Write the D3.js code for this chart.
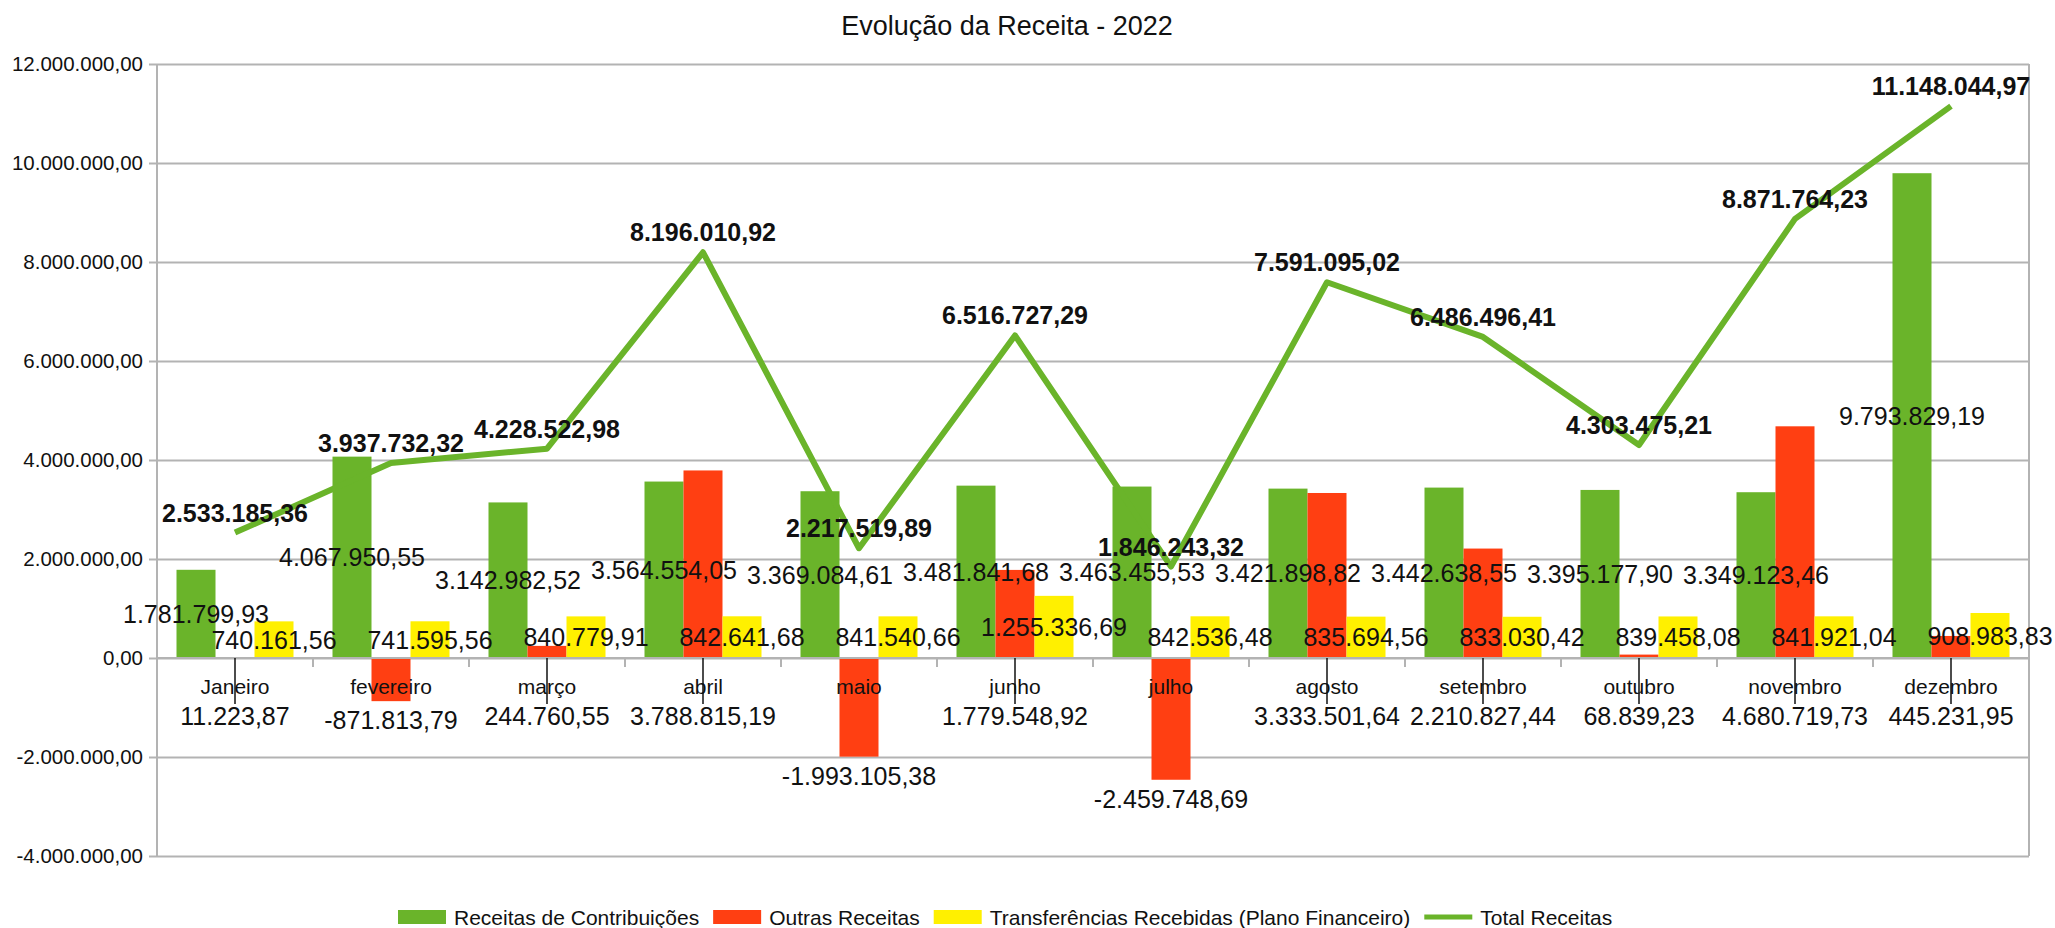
<!DOCTYPE html>
<html>
<head>
<meta charset="utf-8">
<script src="https://cdn.jsdelivr.net/npm/d3@7"></script>
<style>
  body { margin: 0; background: #fff; }
  text { font-family: "Liberation Sans", Arial, sans-serif; fill: #111; }
</style>
</head>
<body>
<svg id="chart"></svg>
<script>
// Months (category axis)
const months = ["Janeiro", "fevereiro", "março", "abril", "maio", "junho",
  "julho", "agosto", "setembro", "outubro", "novembro", "dezembro"];

// Series values
const contribuicoes = [1781799.93, 4067950.55, 3142982.52, 3564554.05, 3369084.61, 3481841.68,
  3463455.53, 3421898.82, 3442638.55, 3395177.90, 3349123.46, 9793829.19];
const outras = [11223.87, -871813.79, 244760.55, 3788815.19, -1993105.38, 1779548.92,
  -2459748.69, 3333501.64, 2210827.44, 68839.23, 4680719.73, 445231.95];
const transferencias = [740161.56, 741595.56, 840779.91, 842641.68, 841540.66, 1255336.69,
  842536.48, 835694.56, 833030.42, 839458.08, 841921.04, 908983.83];
const totais = [2533185.36, 3937732.32, 4228522.98, 8196010.92, 2217519.89, 6516727.29,
  1846243.32, 7591095.02, 6486496.41, 4303475.21, 8871764.23, 11148044.97];

const seriesNames = ["Receitas de Contribuições", "Outras Receitas",
  "Transferências Recebidas (Plano Financeiro)", "Total Receitas"];
const yTicks = [-4000000, -2000000, 0, 2000000, 4000000, 6000000, 8000000, 10000000, 12000000];

const colors = ["#6ab42a", "#ff3f12", "#fff000"];
const lineColor = "#6ab42a";

const width = 2055, height = 928;
const plotLeft = 157, plotRight = 2029, plotTop = 64, plotBottom = 856;

// Brazilian number format: 1.234.567,89 with a plain hyphen for negatives
const ptBR = d3.formatLocale({ decimal: ",", thousands: ".", grouping: [3], currency: ["R$", ""], minus: "-" });
const fmt = ptBR.format(",.2f");

const svg = d3.select("#chart")
  .attr("width", width)
  .attr("height", height);

const x = d3.scaleBand()
  .domain(months)
  .range([plotLeft, plotRight]);

// three bars per month, each a quarter of the band with half a bar gap either side
const xSub = d3.scaleBand()
  .domain([0, 1, 2])
  .range([0, x.bandwidth()])
  .paddingOuter(0.5);

const y = d3.scaleLinear()
  .domain([-4000000, 12000000])
  .range([plotBottom, plotTop]);

// Title
svg.append("text")
  .attr("x", 1007)
  .attr("y", 35)
  .attr("text-anchor", "middle")
  .style("font-size", "27px")
  .text("Evolução da Receita - 2022");

// Gridlines + y axis labels
const yAxis = svg.append("g")
  .attr("transform", `translate(${plotLeft},0)`)
  .call(d3.axisLeft(y)
    .tickValues(yTicks)
    .tickSize(-(plotRight - plotLeft))
    .tickSizeOuter(0)
    .tickPadding(14)
    .tickFormat(fmt));
yAxis.select(".domain").remove();
yAxis.selectAll(".tick line")
  .attr("x1", -8)
  .attr("stroke", "#b3b3b3")
  .attr("stroke-width", 2);
yAxis.selectAll(".tick text")
  .style("font-size", "20.5px")
  .attr("fill", "#111");

// Left and right frame lines
svg.append("line")
  .attr("x1", plotLeft).attr("x2", plotLeft)
  .attr("y1", plotTop).attr("y2", plotBottom)
  .attr("stroke", "#b3b3b3").attr("stroke-width", 2);
svg.append("line")
  .attr("x1", plotRight).attr("x2", plotRight)
  .attr("y1", plotTop).attr("y2", plotBottom)
  .attr("stroke", "#b3b3b3").attr("stroke-width", 2);

// Bars
const seriesData = [contribuicoes, outras, transferencias];
seriesData.forEach((values, s) => {
  svg.append("g")
    .selectAll("rect")
    .data(values)
    .join("rect")
    .attr("x", (d, i) => x(months[i]) + xSub(s))
    .attr("width", xSub.bandwidth())
    .attr("y", d => y(Math.max(0, d)))
    .attr("height", d => Math.abs(y(d) - y(0)))
    .attr("fill", colors[s]);
});

// Category axis on the zero line, ticks between months
const xAxis = svg.append("g")
  .attr("transform", `translate(0,${y(0)})`);
xAxis.append("line")
  .attr("x1", plotLeft).attr("x2", plotRight)
  .attr("stroke", "#b3b3b3").attr("stroke-width", 2);
xAxis.selectAll(".cat-tick")
  .data(months.slice(1))
  .join("line")
  .attr("class", "cat-tick")
  .attr("x1", d => x(d)).attr("x2", d => x(d))
  .attr("y1", 0).attr("y2", 9)
  .attr("stroke", "#b3b3b3").attr("stroke-width", 2);
xAxis.selectAll(".cat-label")
  .data(months)
  .join("text")
  .attr("class", "cat-label")
  .attr("x", d => x(d) + x.bandwidth() / 2)
  .attr("y", 36)
  .attr("text-anchor", "middle")
  .style("font-size", "21px")
  .text(d => d);

// Total line
const line = d3.line()
  .x((d, i) => x(months[i]) + x.bandwidth() / 2)
  .y(d => y(d));
svg.append("path")
  .datum(totais)
  .attr("d", line)
  .attr("fill", "none")
  .attr("stroke", lineColor)
  .attr("stroke-width", 6)
  .attr("stroke-linejoin", "round");

// Data labels
const labelSize = "25px";
const barCenter = (i, s) => x(months[i]) + xSub(s) + xSub.bandwidth() / 2;

// Contribuições and transferências: centred inside the bar
[[contribuicoes, 0], [transferencias, 2]].forEach(([values, s]) => {
  svg.append("g")
    .selectAll("text")
    .data(values)
    .join("text")
    .attr("x", (d, i) => barCenter(i, s))
    .attr("y", d => (y(d) + y(0)) / 2)
    .attr("dy", "0.36em")
    .attr("text-anchor", "middle")
    .style("font-size", labelSize)
    .text(d => fmt(d));
});

// Outras receitas: positives pulled below the axis with a leader line, negatives under the bar
const outrasG = svg.append("g");
outrasG.selectAll("line")
  .data(outras.map((d, i) => ({ d, i })).filter(o => o.d >= 0))
  .join("line")
  .attr("x1", o => barCenter(o.i, 1))
  .attr("x2", o => barCenter(o.i, 1))
  .attr("y1", y(0))
  .attr("y2", y(0) + 46)
  .attr("stroke", "#111")
  .attr("stroke-width", 1.5);
outrasG.selectAll("text")
  .data(outras)
  .join("text")
  .attr("x", (d, i) => barCenter(i, 1))
  .attr("y", d => d >= 0 ? y(0) + 58 : y(d) + 19)
  .attr("dy", "0.36em")
  .attr("text-anchor", "middle")
  .style("font-size", labelSize)
  .text(d => fmt(d));

// Total labels, bold, above each point
svg.append("g")
  .selectAll("text")
  .data(totais)
  .join("text")
  .attr("x", (d, i) => x(months[i]) + x.bandwidth() / 2)
  .attr("y", d => y(d) - 20)
  .attr("dy", "0.36em")
  .attr("text-anchor", "middle")
  .style("font-size", labelSize)
  .style("font-weight", "bold")
  .text(d => fmt(d));

// Legend
const legend = svg.append("g")
  .attr("transform", "translate(398, 917)");
let lx = 0;
seriesNames.forEach((name, s) => {
  const item = legend.append("g").attr("transform", `translate(${lx},0)`);
  if (s < 3) {
    item.append("rect")
      .attr("x", 0).attr("y", -7)
      .attr("width", 48).attr("height", 14)
      .attr("fill", colors[s]);
  } else {
    item.append("rect")
      .attr("x", 0).attr("y", -2.5)
      .attr("width", 48).attr("height", 5)
      .attr("fill", lineColor);
  }
  const t = item.append("text")
    .attr("x", 56)
    .attr("y", 0)
    .attr("dy", "0.36em")
    .style("font-size", "21px")
    .text(name);
  lx += 56 + t.node().getComputedTextLength() + 14;
});
</script>
</body>
</html>
